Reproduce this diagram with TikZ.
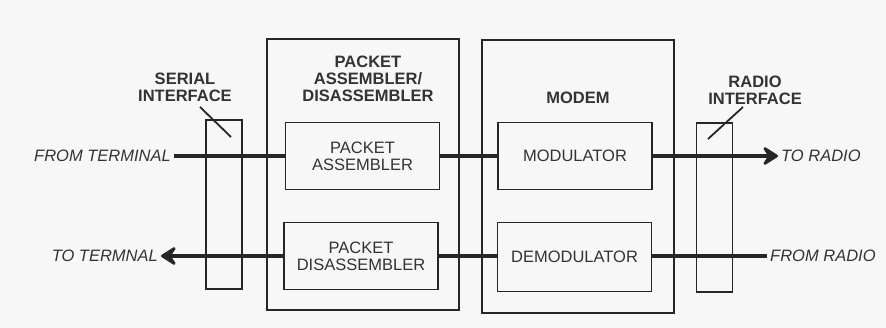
\documentclass[tikz,border=0pt]{standalone}
\usepackage{fontspec}
\setmainfont{Liberation Sans}
\usetikzlibrary{arrows.meta, positioning, backgrounds}

\begin{document}
\begin{tikzpicture}[
    x=1pt, y=-1pt,
    every node/.style={font=\fontsize{16.5}{17}\selectfont},
    unit/.style={draw=black!85, line width=1.8pt, inner sep=0pt},
    block/.style={unit, minimum width=154pt, minimum height=67pt, align=center, text=black!80},
    iface/.style={unit, minimum width=36pt, minimum height=169pt},
    heading/.style={font=\fontsize{16.5}{17}\selectfont\bfseries, align=center, text=black!80},
    ioname/.style={font=\fontsize{16.5}{17}\selectfont\itshape, text=black!80, inner sep=3pt},
    bus/.style={draw=black!85, line width=3.6pt},
    flow/.style={bus, -{Stealth[length=19pt, width=24pt, inset=8pt, round]}},
    leader/.style={draw=black!85, line width=1.8pt}
]

% Frame
\useasboundingbox[fill=black!3] (0,0) rectangle (886,328);

% Outer units
\node[unit, minimum width=192pt, minimum height=271pt] (pad) at (363,174.5) {};
\node[unit, minimum width=192pt, minimum height=273pt] (modem) at (578,176.5) {};

% Interfaces
\node[iface] (serial) at (224,204.5) {};
\node[iface] (radio) at (714.5,207.5) {};

% Inner blocks
\node[block] (asm) at (362.5,156) {PACKET\\ASSEMBLER};
\node[block] (disasm) at (361,256) {PACKET\\DISASSEMBLER};
\node[block] (mod) at (575,156) {MODULATOR};
\node[block, minimum height=69pt] (demod) at (574.5,257) {DEMODULATOR};

% Headings
\node[heading] (padtitle) at (368,79) {PACKET\\ASSEMBLER/\\DISASSEMBLER};
\node[heading] (modemtitle) at (578,98) {MODEM};
\node[heading] (serialtitle) at (185,87) {SERIAL\\INTERFACE};
\node[heading] (radiotitle) at (755,90) {RADIO\\INTERFACE};

% Terminal and radio ends
\node[ioname, anchor=east] (fromterm) at (174,156) {FROM TERMINAL};
\node[ioname, anchor=east] (toterm) at (161,256) {TO TERMNAL};
\node[ioname, anchor=west] (toradio) at (778,156) {TO RADIO};
\node[ioname, anchor=west] (fromradio) at (767,256) {FROM RADIO};

% Leader lines
\coordinate (serialtip) at (231,137);
\coordinate (radiotip) at (708,139);
\draw[leader] (200,107) -- (serialtip);
\draw[leader] (743,107) -- (radiotip);

% Data paths
\draw[bus] (fromterm.east) -- (asm.west);
\draw[bus] (asm.east) -- (mod.west);
\draw[flow] (mod.east) -- (toradio.west);
\draw[bus] (fromradio.west) -- (demod.east |- fromradio.west);
\draw[bus] (demod.west |- disasm.east) -- (disasm.east);
\draw[flow] (disasm.west) -- (toterm.east);

\end{tikzpicture}
\end{document}
